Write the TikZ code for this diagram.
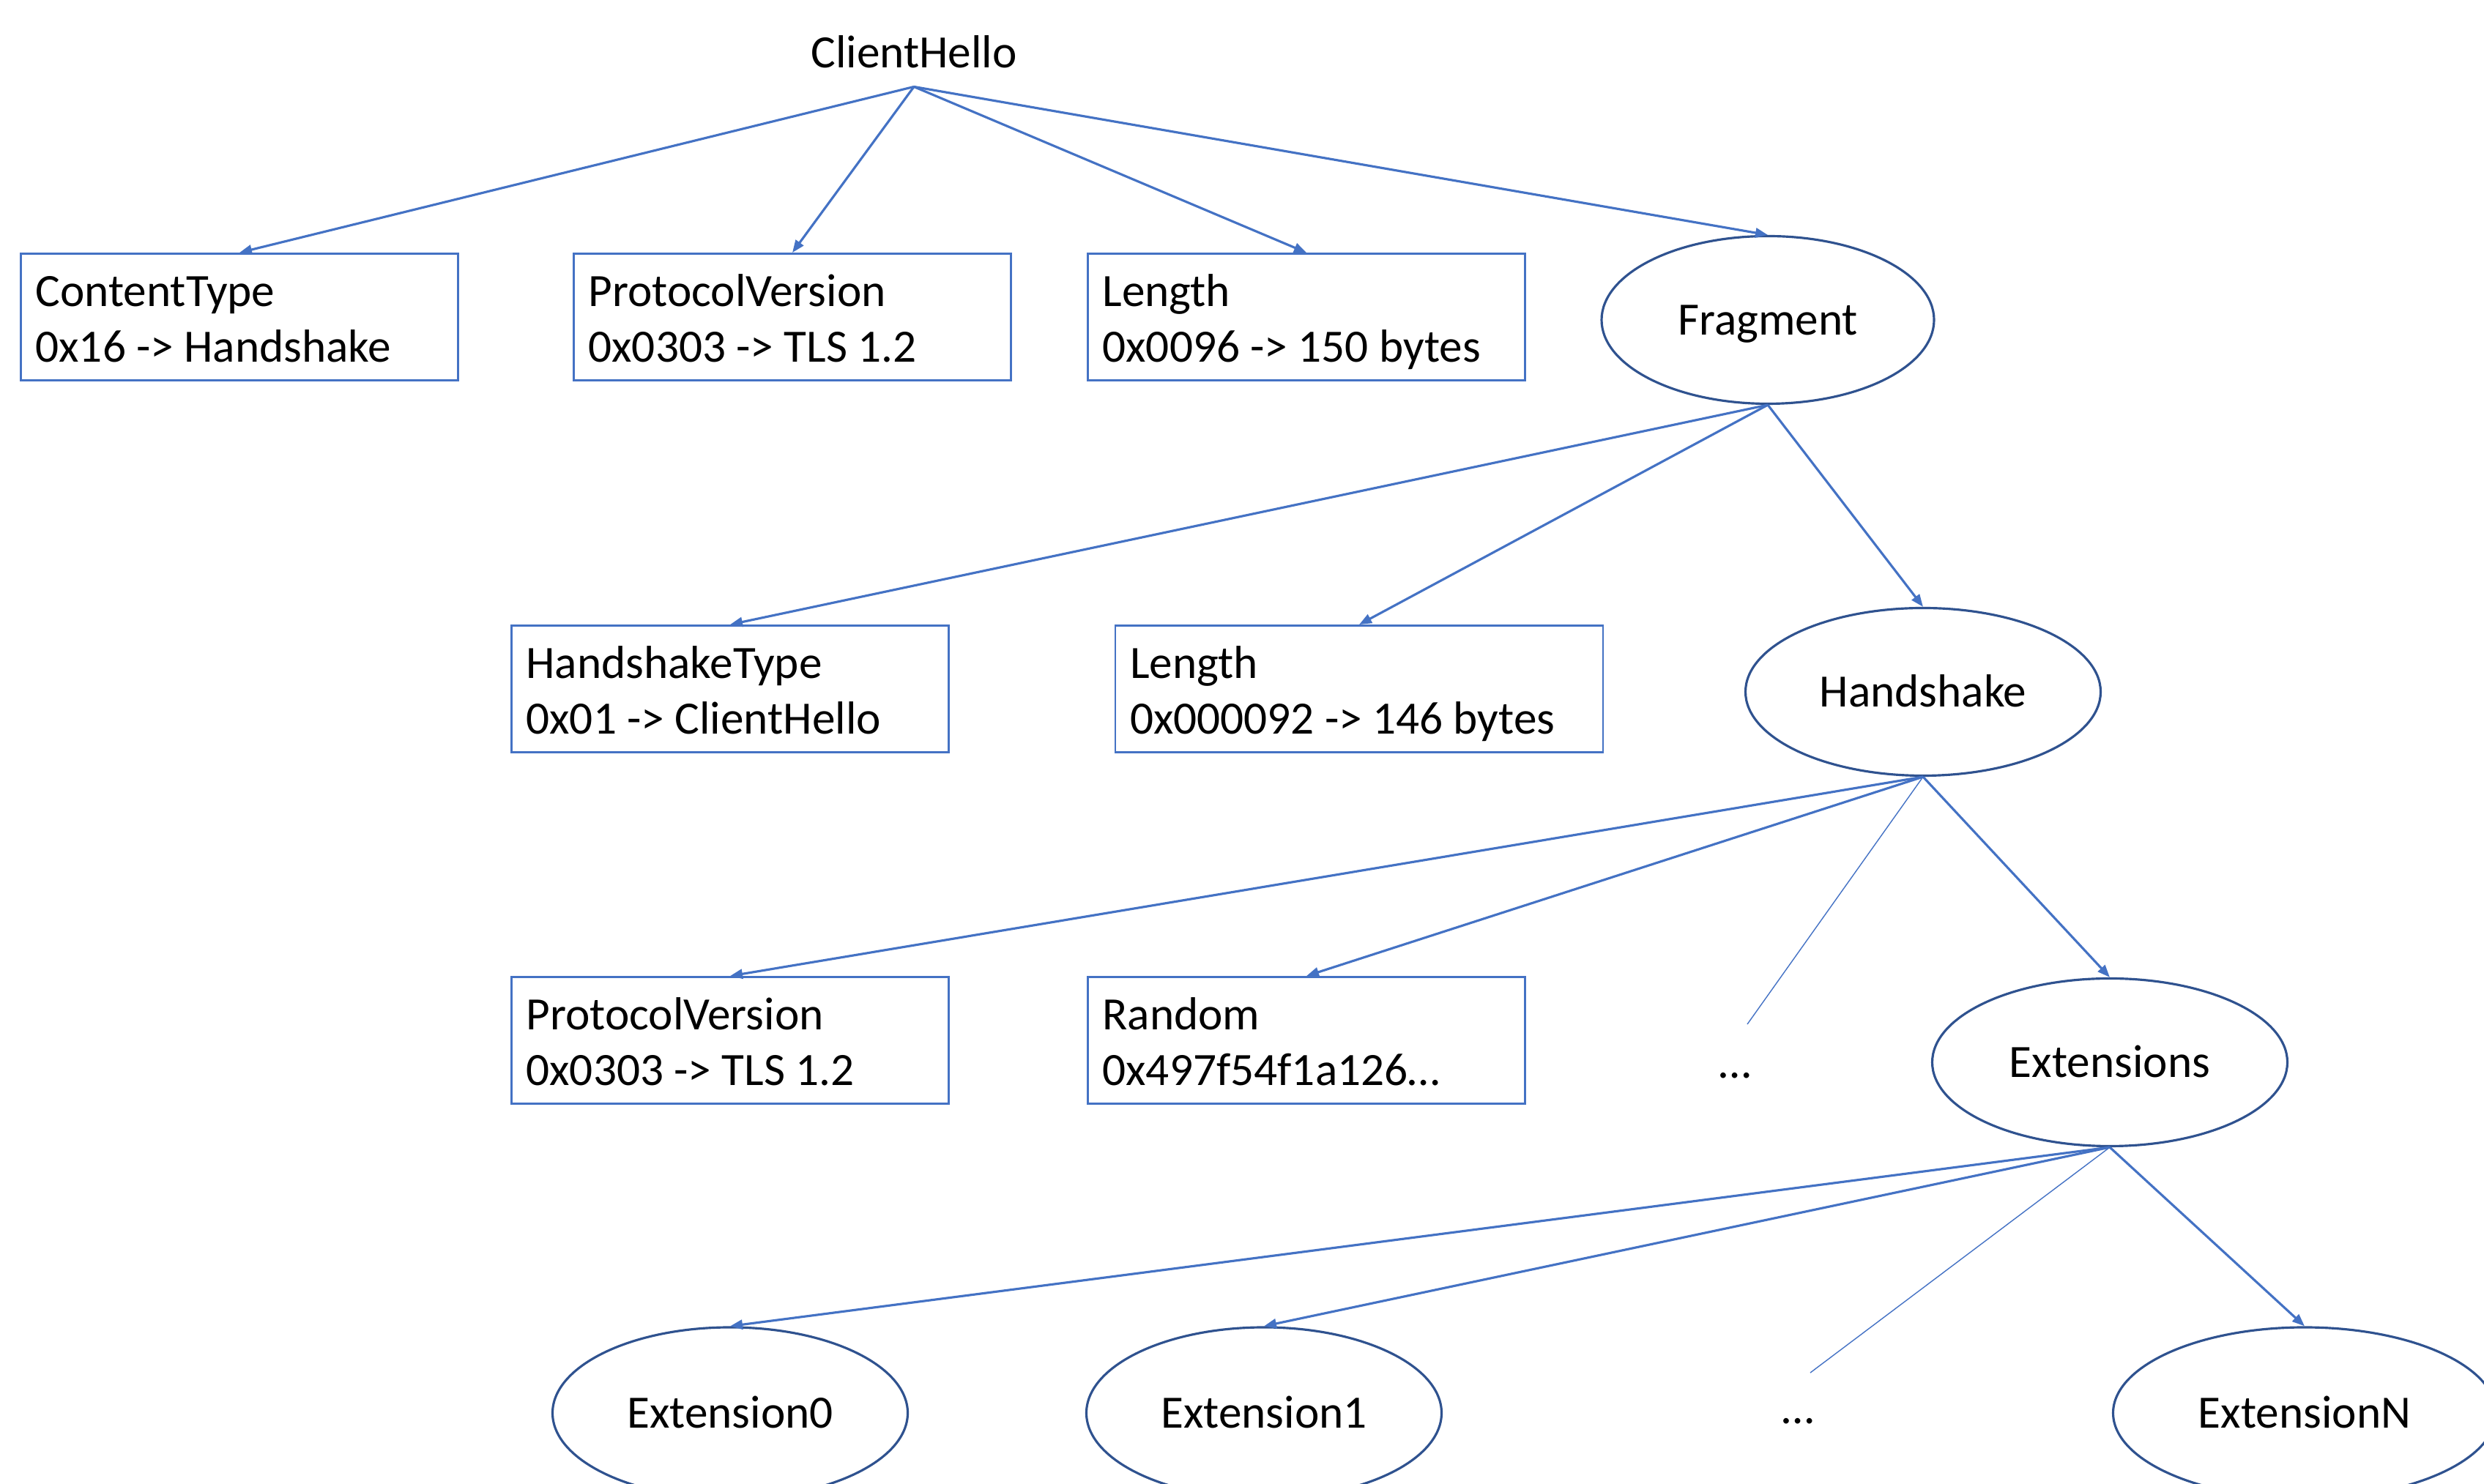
\documentclass[tikz,border=0pt]{standalone}
\usepackage{fontspec}
\setmainfont{Carlito}
\usepackage{tikz}
\usetikzlibrary{arrows.meta,shapes.geometric}
\definecolor{tls_blue}{RGB}{68, 114, 196}
\definecolor{tls_dark}{RGB}{47, 82, 143}
\newcommand{\fieldfont}{\fontsize{18}{21.6}\selectfont}
\tikzstyle{fb}=[rectangle,draw=tls_blue,line width=0.8pt,inner xsep=0.2cm,inner ysep=0pt,
  minimum width=5.97cm,minimum height=1.73cm,text width=5.57cm,align=left,font=\fieldfont,
  execute at begin node={\spaceskip=0pt\xspaceskip=0pt\rule{0pt}{20pt}},
  execute at end node={\strut}]
\tikzstyle{en}=[ellipse,draw=tls_dark,line width=0.9pt,inner sep=0pt,
  minimum width=4.85cm,minimum height=2.29cm,text height=11.6pt,text depth=0pt,font=\fieldfont]
\tikzstyle{arr}=[draw=tls_blue,line width=0.9pt,-{Triangle[length=1.7mm,width=1.3mm]}]
\tikzstyle{tl}=[draw=tls_blue,line width=0.4pt]
\tikzstyle{none}=[font=\fieldfont]

\begin{document}
\begin{tikzpicture}
        \path [use as bounding box, clip] (0, 0) rectangle (33.92, 20.27);
        \node [style=none, inner ysep=7pt] (0) at (12.48, 19.56) {ClientHello};
        \node [style=fb] (1) at (3.27, 15.94) {ContentType\\0x16 -> Handshake};
        \node [style=fb] (2) at (10.82, 15.94) {ProtocolVersion\\0x0303 -> TLS 1.2};
        \node [style=fb] (3) at (17.84, 15.94) {Length\\0x0096 -> 150 bytes};
        \node [style=en, minimum width=4.54cm] (4) at (24.14, 15.90) {Fragment};
        \node [style=fb] (5) at (9.97, 10.86) {HandshakeType\\0x01 -> ClientHello};
        \node [style=fb, minimum width=6.66cm, text width=6.26cm] (6) at (18.56, 10.86) {Length\\0x000092 -> 146 bytes};
        \node [style=en] (7) at (26.26, 10.82) {Handshake};
        \node [style=fb] (8) at (9.97, 6.06) {ProtocolVersion\\0x0303 -> TLS 1.2};
        \node [style=fb] (9) at (17.84, 6.06) {Random\\0x497f54f1a126…};
        \node [style=none] (10) at (23.69, 5.58) {…};
        \coordinate (11) at (23.86, 6.28);
        \node [style=en] (12) at (28.81, 5.76) {Extensions};
        \node [style=en, minimum height=2.34cm] (13) at (9.97, 0.97) {Extension0};
        \node [style=en, minimum height=2.34cm] (14) at (17.26, 0.97) {Extension1};
        \node [style=none] (15) at (24.55, 0.86) {…};
        \coordinate (16) at (24.72, 1.52);
        \node [style=en, minimum width=5.23cm, minimum height=2.34cm] (17) at (31.47, 0.97) {ExtensionN};
        \draw [style=arr] (0.south) to (1.north);
        \draw [style=arr] (0.south) to (2.north);
        \draw [style=arr] (0.south) to (3.north);
        \draw [style=arr] (0.south) to (4.north);
        \draw [style=arr] (4.south) to (5.north);
        \draw [style=arr] (4.south) to (6.north);
        \draw [style=arr] (4.south) to (7.north);
        \draw [style=arr] (7.south) to (8.north);
        \draw [style=arr] (7.south) to (9.north);
        \draw [style=tl] (7.south) to (11);
        \draw [style=arr] (7.south) to (12.north);
        \draw [style=arr] (12.south) to (13.north);
        \draw [style=arr] (12.south) to (14.north);
        \draw [style=tl] (12.south) to (16);
        \draw [style=arr] (12.south) to (17.north);
    \end{tikzpicture}
\end{document}
